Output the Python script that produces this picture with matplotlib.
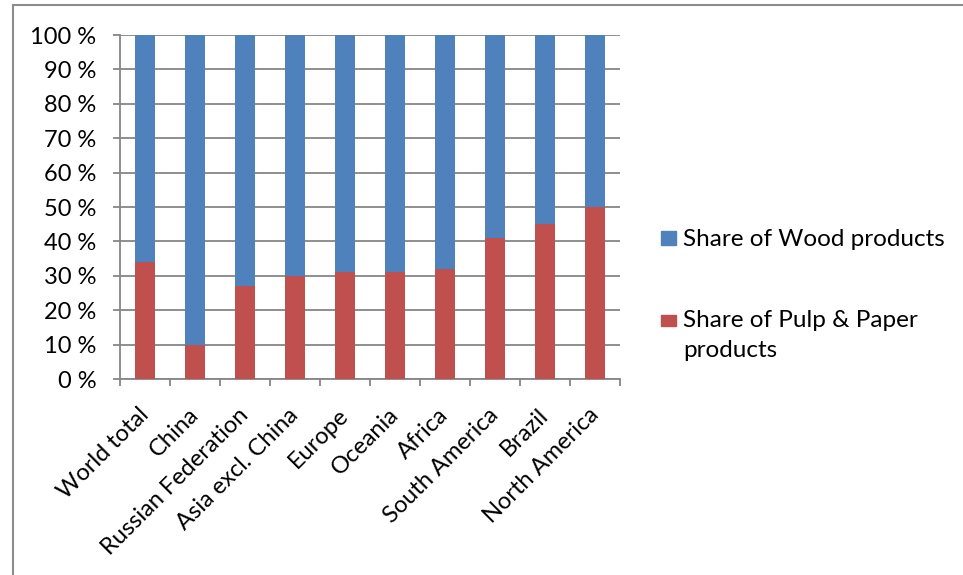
import matplotlib
matplotlib.use("Agg")
import matplotlib.pyplot as plt
import numpy as np
from matplotlib.lines import Line2D
from matplotlib.patches import Rectangle

plt.rcParams['font.family'] = ['Lato', 'DejaVu Sans']

regions = ["World total", "China", "Russian Federation", "Asia excl. China",
           "Europe", "Oceania", "Africa", "South America", "Brazil", "North America"]
pulp_paper_share = [34, 10, 27, 30, 31, 31, 32, 41, 45, 50]
wood_share = [100 - v for v in pulp_paper_share]
y_ticks = [0, 10, 20, 30, 40, 50, 60, 70, 80, 90, 100]
y_tick_labels = [f"{v} %" for v in y_ticks]
series_labels = ["Share of Wood products", "Share of Pulp & Paper\nproducts"]

BLUE = "#4F81BD"
RED = "#C0504D"
GRID = "#868686"
FS = 17

W, H = 963, 575
fig = plt.figure(figsize=(W / 100, H / 100), dpi=100)
ax = fig.add_axes([120 / W, (H - 379) / H, 500 / W, 344 / H])

x = np.arange(len(regions))
ax.bar(x, pulp_paper_share, width=0.4, color=RED, zorder=3)
ax.bar(x, wood_share, width=0.4, bottom=pulp_paper_share, color=BLUE, zorder=3)

ax.set_xlim(-0.5, len(regions) - 0.5)
ax.set_ylim(0, 100)
ax.set_yticks(y_ticks)
ax.set_yticklabels(y_tick_labels, fontsize=FS)
ax.yaxis.grid(True, color=GRID, linewidth=1.3, zorder=0)
ax.set_axisbelow(True)

ax.set_xticks(x)
ax.set_xticklabels(regions, rotation=45, ha='right', va='center',
                   rotation_mode='anchor', fontsize=FS)
ax.set_xticks(np.arange(len(regions) + 1) - 0.5, minor=True)
ax.tick_params(axis='x', which='major', length=0, pad=23.5)
ax.tick_params(axis='x', which='minor', length=5, color=GRID, width=1.3)
ax.tick_params(axis='y', length=5, color=GRID, width=1.3, pad=12)

for side in ('top', 'right'):
    ax.spines[side].set_visible(False)
for side in ('left', 'bottom'):
    ax.spines[side].set_color(GRID)
    ax.spines[side].set_linewidth(1.3)


def px(xp, yp):
    return xp / W, 1 - yp / H


# legend: colour key squares with their labels
legend_rows = [
    (BLUE, series_labels[0], (231, 245), 245.5),
    (RED, series_labels[1], (315, 326), 327.0),
]
for color, label, (sq_top, sq_bot), baseline in legend_rows:
    x0, y0 = px(661, sq_bot)
    fig.add_artist(Rectangle((x0, y0), 15 / W, (sq_bot - sq_top) / H, color=color,
                             transform=fig.transFigure))
    for i, line in enumerate(label.split("\n")):
        tx, ty = px(683, baseline + 30 * i)
        fig.text(tx, ty, line, fontsize=17.5, ha='left', va='baseline')

# chart frame
fig.add_artist(Line2D([13 / W, 1], [1 - 5 / H, 1 - 5 / H], color="#8C8C8C", lw=1.5,
                      transform=fig.transFigure))
fig.add_artist(Line2D([13 / W, 13 / W], [0, 1 - 5 / H], color="#8C8C8C", lw=1.5,
                      transform=fig.transFigure))

fig.savefig("out.png", dpi=100)
